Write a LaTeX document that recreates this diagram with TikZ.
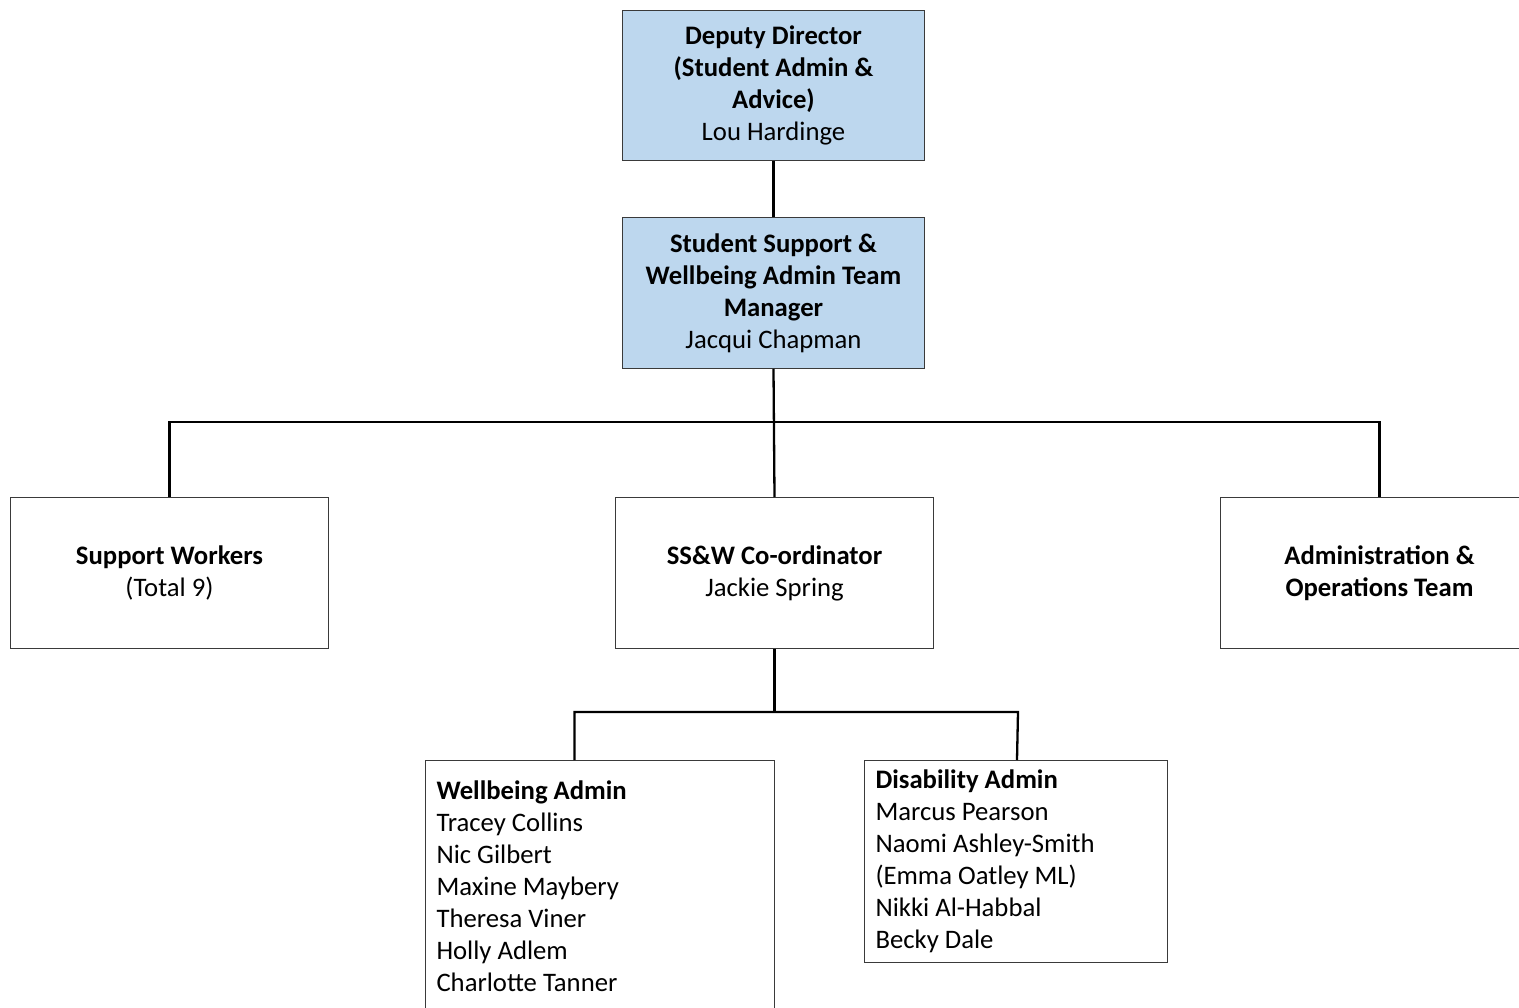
\documentclass[tikz,border=0pt]{standalone}
\usepackage{fontspec}
\setmainfont{Carlito}
\usetikzlibrary{calc}
\definecolor{headblue}{HTML}{BDD7EE}
\definecolor{edgegray}{HTML}{3A3A3A}
\begin{document}
\begin{tikzpicture}[x=1pt,y=-1pt,
  every node/.style={font=\fontsize{26.7}{32}\selectfont, inner sep=0pt},
  unit/.style={draw=edgegray, line width=1pt, anchor=north west, align=center},
  headbox/.style={unit, fill=headblue},
  listbox/.style={draw=edgegray, line width=1pt, anchor=north west, align=flush left, inner xsep=11pt},
  conn/.style={draw=black, line width=2.3pt}]
\useasboundingbox (0,0) rectangle (1519,1008);
\clip (0,0) rectangle (1519,1008);
\fill[white] (0,0) rectangle (1519,1008);

% top of the chart
\node[headbox, minimum width=302pt, minimum height=150pt] (dd) at (622,10)
  {\textbf{Deputy Director}\\\textbf{(Student Admin \&}\\\textbf{Advice)}\\Lou Hardinge};
\node[headbox, minimum width=302pt, minimum height=151pt] (mgr) at (622,217)
  {\textbf{Student Support \&}\\\textbf{Wellbeing Admin Team}\\\textbf{Manager}\\Jacqui Chapman};

% second row
\node[unit, minimum width=318pt, minimum height=151pt] (sw) at (10,497)
  {\textbf{Support Workers}\\(Total 9)};
\node[unit, minimum width=318pt, minimum height=151pt] (co) at (615,497)
  {\textbf{SS\&W Co-ordinator}\\Jackie Spring};
\node[unit, minimum width=318pt, minimum height=151pt] (ops) at (1220,497)
  {\textbf{Administration \&}\\\textbf{Operations Team}};

% admin teams
\node[listbox, text width=327pt, minimum height=252pt] (wb) at (425,760)
  {\textbf{Wellbeing Admin}\\Tracey Collins\\Nic Gilbert\\Maxine Maybery\\Theresa Viner\\Holly Adlem\\Charlotte Tanner};
\node[listbox, text width=281pt, minimum height=202pt] (da) at (864,760)
  {\textbf{Disability Admin}\\Marcus Pearson\\Naomi Ashley-Smith\\(Emma Oatley ML)\\Nikki Al-Habbal\\Becky Dale};

% reporting lines
\draw[conn] (dd.south) -- (mgr.north);
\coordinate (bus) at ($(mgr.south)+(0,53)$);
\draw[conn] (mgr.south) -- (co.north);
\draw[conn] (sw.north) -- (sw.north |- bus) -- (ops.north |- bus) -- (ops.north);

\coordinate (sub) at ($(co.south)+(0,63)$);
\coordinate (wbin) at ($(wb.north)+(-25.5,0)$);
\coordinate (dain) at ($(da.north)+(1,0)$);
\draw[conn] (co.south) -- (sub);
\draw[conn] (wbin) -- (wbin |- sub) -- ($(dain |- sub)+(1,0)$) -- (dain);
\end{tikzpicture}
\end{document}
